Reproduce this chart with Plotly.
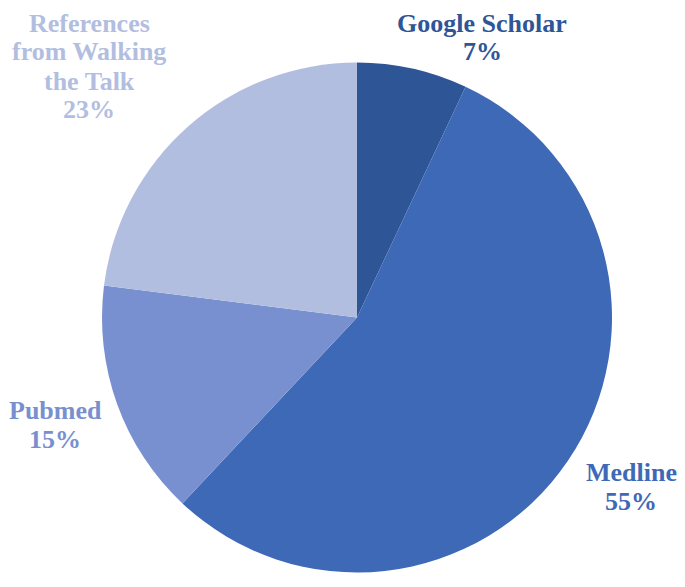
import plotly.graph_objects as go

# data
sources = ["Google Scholar", "Medline", "Pubmed", "References from Walking the Talk"]
label_lines = [["Google Scholar"], ["Medline"], ["Pubmed"], ["References", "from Walking", "the Talk"]]
shares = [7, 55, 15, 23]
colors = ["#2E5596", "#3E69B7", "#7890CF", "#B2BEDF"]

# the page body adds an 8px margin all round, so keep the figure inside the window
OFF = 8
W, H = 685 - 2 * OFF, 587 - 2 * OFF
GAP = 29
# centre of the first line of each label, in window pixels
label_pos = [(482, 23), (631, 472), (55, 410), (89, 23)]

fig = go.Figure(go.Pie(
    labels=sources,
    values=shares,
    sort=False,
    direction="clockwise",
    rotation=0,
    textinfo="none",
    hoverinfo="label+percent",
    marker=dict(colors=colors, line=dict(width=0)),
    domain=dict(x=[(102 - OFF) / W, (612 - OFF) / W],
                y=[1 - (573 - OFF) / H, 1 - (62 - OFF) / H]),
    showlegend=False,
))

for lines, val, col, (px, py) in zip(label_lines, shares, colors, label_pos):
    for i, txt in enumerate(lines + [f"{val}%"]):
        fig.add_annotation(
            x=(px - OFF) / W, y=1 - (py + i * GAP - OFF) / H,
            xref="paper", yref="paper",
            text=f"<b>{txt}</b>",
            showarrow=False, xanchor="center", yanchor="middle",
            font=dict(family="Liberation Serif, Times New Roman, serif", size=26, color=col),
        )

fig.update_layout(
    width=W, height=H,
    margin=dict(l=0, r=0, t=0, b=0),
    paper_bgcolor="white",
    plot_bgcolor="white",
)
fig.write_html("out.html")
